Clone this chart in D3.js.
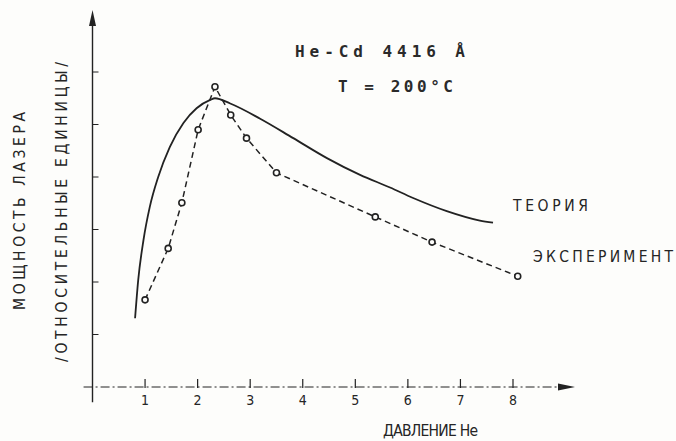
<!DOCTYPE html>
<html>
<head>
<meta charset="utf-8">
<script src="https://cdn.jsdelivr.net/npm/d3@7"></script>
<style>
  body { margin: 0; background: #fdfdfb; }
  svg { display: block; }
  .lbl { font-family: "DejaVu Sans Condensed", "Liberation Sans Narrow", sans-serif; font-size: 15.5px; fill: #252525; }
  .mono { font-family: "DejaVu Sans Mono", "Liberation Mono", monospace; font-size: 16px; font-weight: bold; fill: #2a2a2a; }
</style>
</head>
<body>
<div id="chart"></div>
<script>
// He-Cd 4416 A, T = 200 C : laser power vs He pressure

var theoryPressure = [0.81, 0.87, 0.97, 1.09, 1.25, 1.47, 1.73, 1.98, 2.24, 2.33, 2.62, 3.19, 3.82, 4.46, 5.09, 5.66, 6.10, 6.74, 7.37, 7.62];
var theoryPower    = [1.31, 2.04, 2.80, 3.43, 4.00, 4.57, 5.03, 5.31, 5.47, 5.50, 5.40, 5.11, 4.74, 4.36, 4.04, 3.80, 3.60, 3.35, 3.17, 3.13];

var expPressure = [1.00, 1.44, 1.70, 2.01, 2.33, 2.63, 2.93, 3.50, 5.38, 6.46, 8.09];
var expPower    = [1.66, 2.64, 3.51, 4.90, 5.72, 5.18, 4.74, 4.08, 3.24, 2.76, 2.11];

var xTicks = [1, 2, 3, 4, 5, 6, 7, 8];
var yTicks = [1, 2, 3, 4, 5, 6];

var width = 676, height = 441;
var ink = "#222";

var x = d3.scaleLinear().domain([0, 8]).range([92.5, 513]);
var y = d3.scaleLinear().domain([0, 7.2]).range([387, 9]);

var svg = d3.select("#chart")
            .append("svg")
            .attr("width", width)
            .attr("height", height);

// axes
var axes = svg.append("g").attr("class", "axes");

axes.append("line")
    .attr("x1", x(-0.17)).attr("x2", x(9.0))
    .attr("y1", y(0)).attr("y2", y(0))
    .style("stroke", ink).style("stroke-width", 1)
    .style("stroke-dasharray", "9,3,2,3");

axes.append("path")
    .attr("d", "M" + x(9.18) + "," + y(0) + "L" + (x(9.18) - 17) + "," + (y(0) - 3.5) +
               "L" + (x(9.18) - 17) + "," + (y(0) + 3.5) + "Z")
    .style("fill", ink);

axes.append("line")
    .attr("x1", x(0)).attr("x2", x(0))
    .attr("y1", y(-0.29)).attr("y2", y(7.0))
    .style("stroke", ink).style("stroke-width", 1.4);

axes.append("path")
    .attr("d", "M" + x(0) + "," + y(7.18) + "L" + (x(0) - 3.5) + "," + (y(7.18) + 16) +
               "L" + (x(0) + 3.5) + "," + (y(7.18) + 16) + "Z")
    .style("fill", ink);

axes.selectAll(".ytick")
    .data(yTicks)
    .enter().append("line")
    .attr("class", "ytick")
    .attr("x1", x(0)).attr("x2", x(0) + 6)
    .attr("y1", function(d) { return y(d); })
    .attr("y2", function(d) { return y(d); })
    .style("stroke", ink).style("stroke-width", 1);

axes.selectAll(".xtick")
    .data(xTicks)
    .enter().append("line")
    .attr("class", "xtick")
    .attr("x1", function(d) { return x(d); })
    .attr("x2", function(d) { return x(d); })
    .attr("y1", y(0) - 8).attr("y2", y(0) + 1)
    .style("stroke", ink).style("stroke-width", 1.2);

axes.selectAll(".xlab")
    .data(xTicks)
    .enter().append("text")
    .attr("class", "lbl xlab")
    .attr("x", function(d) { return x(d); })
    .attr("y", 405)
    .attr("text-anchor", "middle")
    .style("font-size", "14px")
    .text(function(d) { return d; });

// curves
var theory = theoryPressure.map(function(p, i) { return [p, theoryPower[i]]; });
var experiment = expPressure.map(function(p, i) { return [p, expPower[i]]; });

var smooth = d3.line()
    .x(function(d) { return x(d[0]); })
    .y(function(d) { return y(d[1]); })
    .curve(d3.curveMonotoneX);

var straight = d3.line()
    .x(function(d) { return x(d[0]); })
    .y(function(d) { return y(d[1]); });

svg.append("path")
    .datum(theory)
    .attr("d", smooth)
    .style("fill", "none")
    .style("stroke", ink)
    .style("stroke-width", 1.8);

svg.append("path")
    .datum(experiment)
    .attr("d", straight)
    .style("fill", "none")
    .style("stroke", ink)
    .style("stroke-width", 1.5)
    .style("stroke-dasharray", "6,4");

svg.selectAll(".pt")
    .data(experiment)
    .enter().append("circle")
    .attr("class", "pt")
    .attr("cx", function(d) { return x(d[0]); })
    .attr("cy", function(d) { return y(d[1]); })
    .attr("r", 3)
    .style("fill", "#fdfdfb")
    .style("stroke", ink)
    .style("stroke-width", 1.6);

// texts
svg.append("text").attr("class", "mono")
    .attr("x", 295).attr("y", 57)
    .attr("textLength", 170).attr("lengthAdjust", "spacing")
    .text("He-Cd  4416 Å");

svg.append("text").attr("class", "mono")
    .attr("x", 338).attr("y", 92)
    .attr("textLength", 115).attr("lengthAdjust", "spacing")
    .text("T = 200°C");

svg.append("text").attr("class", "lbl")
    .attr("x", 513).attr("y", 211)
    .attr("textLength", 75).attr("lengthAdjust", "spacing")
    .text("ТЕОРИЯ");

svg.append("text").attr("class", "lbl")
    .attr("x", 533).attr("y", 262)
    .attr("textLength", 140).attr("lengthAdjust", "spacing")
    .text("ЭКСПЕРИМЕНТ");

svg.append("text").attr("class", "lbl")
    .attr("x", 383).attr("y", 436)
    .attr("textLength", 95).attr("lengthAdjust", "spacing")
    .text("ДАВЛЕНИЕ He");

svg.append("text").attr("class", "lbl")
    .attr("transform", "translate(25,211) rotate(-90)")
    .attr("text-anchor", "middle")
    .attr("textLength", 198).attr("lengthAdjust", "spacing")
    .text("МОЩНОСТЬ  ЛАЗЕРА");

svg.append("text").attr("class", "lbl")
    .attr("transform", "translate(67,212) rotate(-90)")
    .attr("text-anchor", "middle")
    .attr("textLength", 300).attr("lengthAdjust", "spacing")
    .text("/ОТНОСИТЕЛЬНЫЕ  ЕДИНИЦЫ/");
</script>
</body>
</html>
